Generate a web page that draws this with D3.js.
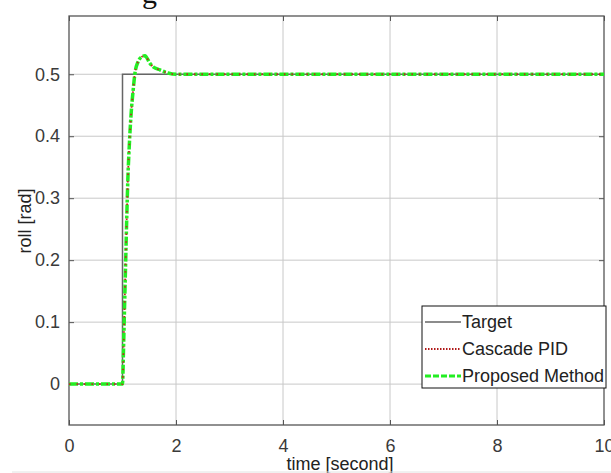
<!DOCTYPE html>
<html><head><meta charset="utf-8">
<script src="https://cdn.jsdelivr.net/npm/d3@7"></script>
<style>body{margin:0;background:#fff}svg{display:block}</style>
</head><body>
<svg id="c" width="611" height="473"></svg>
<script>
const xTicks = [0, 2, 4, 6, 8, 10];
const yTicks = [0, 0.1, 0.2, 0.3, 0.4, 0.5];
const yTickLabels = ["0", "0.1", "0.2", "0.3", "0.4", "0.5"];
const targetT = [0, 1, 1, 10];
const targetV = [0, 0, 0.5, 0.5];
const respT = [0, 1.0, 1.02, 1.04, 1.06, 1.08, 1.1, 1.13, 1.16, 1.2, 1.23, 1.29, 1.36, 1.42, 1.51, 1.57, 1.7, 1.85, 2.0, 2.5, 10];
const cascadeV = [0, 0, 0.06, 0.13, 0.2, 0.27, 0.33, 0.39, 0.435, 0.475, 0.5, 0.52, 0.528, 0.53, 0.518, 0.512, 0.507, 0.502, 0.5, 0.5, 0.5];
const proposedV = [0, 0, 0.06, 0.13, 0.2, 0.27, 0.33, 0.39, 0.435, 0.475, 0.5, 0.52, 0.528, 0.53, 0.518, 0.512, 0.507, 0.502, 0.5, 0.5, 0.5];
const legendLabels = ["Target", "Cascade PID", "Proposed Method"];

const svg = d3.select("#c");
const L = 69, R = 604, T = 16, B = 425;
const x = d3.scaleLinear().domain([0, 10]).range([L, R]);
const y = d3.scaleLinear().domain([-0.066, 0.594]).range([B, T]);
const font = "'Liberation Sans', Arial, sans-serif";

// cropped caption fragment above
svg.append("text").attr("x", 142).attr("y", 3).attr("font-family", "'Liberation Serif', serif")
  .attr("font-size", 30).attr("fill", "#111").text("g");

// grid
const g = svg.append("g");
g.selectAll(".gx").data(xTicks.slice(1, -1)).join("line")
  .attr("x1", d => x(d)).attr("x2", d => x(d)).attr("y1", T).attr("y2", B)
  .attr("stroke", "#c8c8c8").attr("stroke-width", 1);
g.selectAll(".gy").data(yTicks).join("line")
  .attr("y1", d => y(d)).attr("y2", d => y(d)).attr("x1", L).attr("x2", R)
  .attr("stroke", "#c8c8c8").attr("stroke-width", 1);

// axes
const xAxis = d3.axisBottom(x).tickValues(xTicks).tickSize(-5).tickPadding(14).tickFormat(d3.format("d"));
const yAxis = d3.axisLeft(y).tickValues(yTicks).tickSize(-5).tickPadding(9).tickFormat((d, i) => yTickLabels[i]);
const ax = svg.append("g").attr("transform", `translate(0,${B})`).call(xAxis);
const ay = svg.append("g").attr("transform", `translate(${L},0)`).call(yAxis);
const axT = svg.append("g").attr("transform", `translate(0,${T})`).call(d3.axisTop(x).tickValues(xTicks).tickSize(-5).tickFormat(""));
const ayR = svg.append("g").attr("transform", `translate(${R},0)`).call(d3.axisRight(y).tickValues(yTicks).tickSize(-5).tickFormat(""));
[ax, ay, axT, ayR].forEach(a => {
  a.select(".domain").remove();
  a.selectAll("line").attr("stroke", "#555");
  a.selectAll("text").attr("font-family", font).attr("font-size", 18).attr("fill", "#3a3a3a");
});
svg.append("rect").attr("x", L).attr("y", T).attr("width", R - L).attr("height", B - T)
  .attr("fill", "none").attr("stroke", "#555").attr("stroke-width", 1.3);

// lines
const line = d3.line().x(d => x(d[0])).y(d => y(d[1]));
const sline = d3.line().x(d => x(d[0])).y(d => y(d[1])).curve(d3.curveMonotoneX);
svg.append("path").datum(d3.zip(targetT, targetV)).attr("d", line)
  .attr("fill", "none").attr("stroke", "#666").attr("stroke-width", 1.5);
svg.append("path").datum(d3.zip(respT, proposedV)).attr("d", sline)
  .attr("fill", "none").attr("stroke", "#22ee22").attr("stroke-width", 3.5)
  .attr("stroke-dasharray", "9,2,3,2");
svg.append("path").datum(d3.zip(respT, cascadeV)).attr("d", sline)
  .attr("fill", "none").attr("stroke", "#c0281e").attr("stroke-width", 1.8)
  .attr("stroke-dasharray", "1.5,6");

// labels
svg.append("text").attr("x", 340).attr("y", 470).attr("text-anchor", "middle")
  .attr("font-family", font).attr("font-size", 18).attr("fill", "#222").text("time [second]");
svg.append("text").attr("transform", "translate(31,221) rotate(-90)").attr("text-anchor", "middle")
  .attr("font-family", font).attr("font-size", 18).attr("fill", "#222").text("roll [rad]");

// legend
const lg = svg.append("g");
lg.append("rect").attr("x", 422).attr("y", 306).attr("width", 184).attr("height", 82)
  .attr("fill", "#fff").attr("stroke", "#111").attr("stroke-width", 1);
const ly = [322, 349, 376];
const styles = [
  {stroke: "#666", w: 1.5, dash: null},
  {stroke: "#b01818", w: 2, dash: "1.5,1.5"},
  {stroke: "#22ee22", w: 3, dash: "6,2"}
];
legendLabels.forEach((t, i) => {
  lg.append("line").attr("x1", 425).attr("x2", 461).attr("y1", ly[i]).attr("y2", ly[i])
    .attr("stroke", styles[i].stroke).attr("stroke-width", styles[i].w)
    .attr("stroke-dasharray", styles[i].dash);
  lg.append("text").attr("x", 462).attr("y", ly[i] + 6).attr("font-family", font)
    .attr("font-size", 18).attr("fill", "#222").text(t);
});

// bottom page rule
svg.append("line").attr("x1", 12).attr("x2", 611).attr("y1", 472).attr("y2", 472)
  .attr("stroke", "#e2e2e2").attr("stroke-width", 1);
</script>
</body></html>
